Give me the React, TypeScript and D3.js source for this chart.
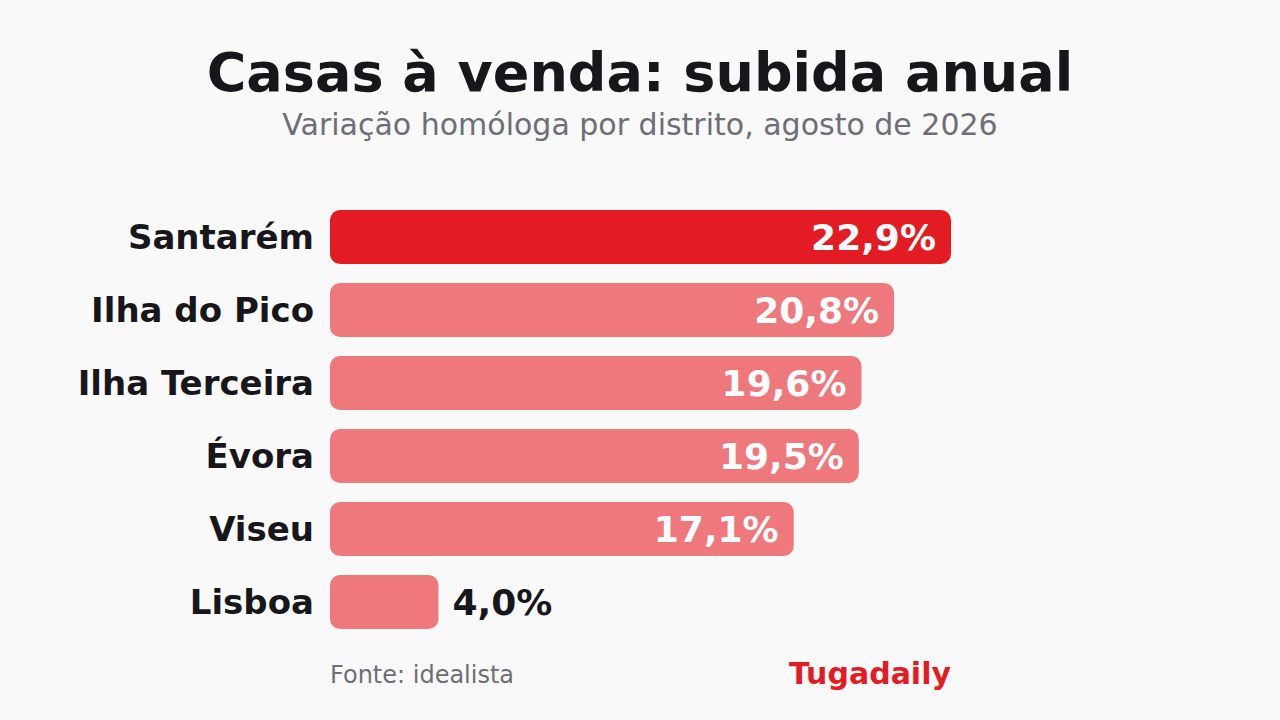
import * as d3 from 'd3';

const districts = ['Santarém', 'Ilha do Pico', 'Ilha Terceira', 'Évora', 'Viseu', 'Lisboa'];
const changes = [22.9, 20.8, 19.6, 19.5, 17.1, 4.0];
const highlight = 'Santarém';

const FONT = '"DejaVu Sans", sans-serif';

export default function App() {
  const rows = districts.map((name, i) => ({ name, value: changes[i] }));

  const x = d3.scaleLinear().domain([0, 22.9]).range([330, 951]);
  const y = d3.scaleBand<string>().domain(districts).range([200.5, 638.5]).paddingInner(0.26).paddingOuter(0.13);

  const fmt = (v: number) => d3.format('.1f')(v).replace('.', ',') + '%';

  return (
    <svg
      width={1280}
      height={720}
      viewBox="0 0 1280 720"
      style={{ position: 'absolute', left: 0, top: 0, background: '#f9f9f9', fontFamily: FONT }}
    >
      <text x={640} y={91} textAnchor="middle" fontSize={54} fontWeight="bold" fill="#17171b">
        Casas à venda: subida anual
      </text>
      <text x={640} y={135} textAnchor="middle" fontSize={30} fill="#6e6e78">
        Variação homóloga por distrito, agosto de 2026
      </text>

      {rows.map((d) => {
        const y0 = y(d.name) ?? 0;
        const w = x(d.value) - x(0);
        const cy = y0 + y.bandwidth() / 2;
        const inside = w > 200;
        return (
          <g key={d.name}>
            <rect
              x={x(0)}
              y={y0}
              width={w}
              height={y.bandwidth()}
              rx={10}
              fill={d.name === highlight ? '#e31b23' : '#ee787b'}
            />
            <text
              x={314}
              y={cy}
              dy="0.35em"
              textAnchor="end"
              fontSize={34}
              fontWeight="bold"
              fill="#17171b"
            >
              {d.name}
            </text>
            <text
              x={inside ? x(d.value) - 15 : x(d.value) + 14}
              y={cy}
              dy="0.35em"
              textAnchor={inside ? 'end' : 'start'}
              fontSize={36}
              fontWeight="bold"
              fill={inside ? '#ffffff' : '#17171b'}
            >
              {fmt(d.value)}
            </text>
          </g>
        );
      })}

      <text x={330} y={683} fontSize={24} fill="#6e6e78">
        Fonte: idealista
      </text>
      <text x={951} y={684} textAnchor="end" fontSize={30} fontWeight="bold" fill="#e31b23">
        Tugadaily
      </text>
    </svg>
  );
}
